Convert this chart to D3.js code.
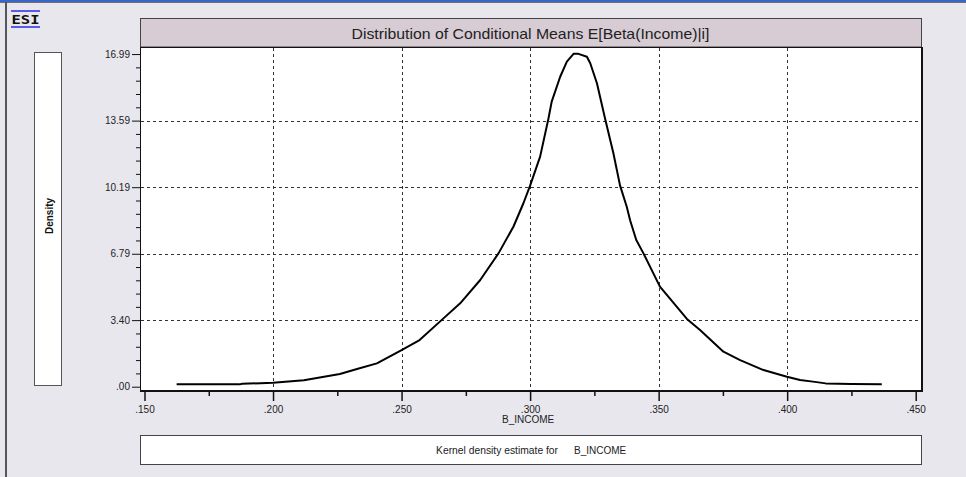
<!DOCTYPE html>
<html><head><meta charset="utf-8">
<script src="https://cdn.jsdelivr.net/npm/d3@7/dist/d3.min.js"></script>
<style>body{margin:0;background:#e9e7ee;}svg{display:block;font-family:"Liberation Sans",Arial,sans-serif;}</style>
</head><body><svg id="c" width="966" height="477"></svg>
<script>
const title = "Distribution of Conditional Means E[Beta(Income)|i]";
const xLabel = "B_INCOME";
const yLabel = "Density";
const legendLead = "Kernel density estimate for";
const legendVar = "B_INCOME";
const xTickValues = [0.15, 0.20, 0.25, 0.30, 0.35, 0.40, 0.45];
const xTickLabels = [".150", ".200", ".250", ".300", ".350", ".400", ".450"];
const yTickValues = [0, 3.40, 6.79, 10.19, 13.59, 16.99];
const yTickLabels = [".00", "3.40", "6.79", "10.19", "13.59", "16.99"];
const xs = [0.1625,0.175,0.187,0.188,0.200,0.212,0.226,0.233,0.2404,0.25,0.257,0.2663,0.2728,0.2806,0.2877,0.2935,0.2974,0.300,0.3039,0.3071,0.3084,0.3117,0.3143,0.3169,0.3188,0.3221,0.3234,0.326,0.3292,0.3324,0.335,0.3376,0.3389,0.3413,0.3441,0.3505,0.361,0.3661,0.3752,0.3817,0.3908,0.3999,0.405,0.41,0.415,0.425,0.4368];
const ys = [0.12,0.12,0.12,0.15,0.20,0.33,0.65,0.92,1.19,1.87,2.38,3.49,4.26,5.45,6.81,8.17,9.37,10.27,11.75,13.67,14.56,15.83,16.6,17.0,17.0,16.85,16.52,15.5,13.67,11.92,10.27,9.19,8.5,7.49,6.81,5.11,3.46,2.9,1.79,1.36,0.85,0.51,0.34,0.26,0.17,0.14,0.12];

const svg = d3.select("#c");
const L = 140, R = 921, T = 47, B = 390;
const x = d3.scaleLinear().domain([0.14825, 0.45206]).range([L, R]);
const y = d3.scaleLinear().domain([-0.168, 17.35]).range([B, T]);

// window chrome
svg.append("rect").attr("x",0).attr("y",0).attr("width",966).attr("height",2).attr("fill","#3a66c8");
svg.append("rect").attr("x",0).attr("y",2).attr("width",966).attr("height",1).attr("fill","#6d6d78");
svg.append("rect").attr("x",5).attr("y",2).attr("width",2).attr("height",475).attr("fill","#55555c");
// ESI logo
const lg = svg.append("g");
lg.append("rect").attr("x",11).attr("y",10).attr("width",29).attr("height",2).attr("fill","#5a5ae6");
lg.append("rect").attr("x",11).attr("y",26).attr("width",29).attr("height",2).attr("fill","#5a5ae6");
lg.append("text").attr("x",25.5).attr("y",24).attr("text-anchor","middle").attr("font-family","DejaVu Sans Mono").attr("font-weight","bold").attr("font-size",13).attr("fill","#111").attr("textLength",28).attr("lengthAdjust","spacingAndGlyphs").text("ESI");

// title box
svg.append("rect").attr("x",L+0.5).attr("y",18.5).attr("width",R-L).attr("height",T-18.5).attr("fill","#d7ccd3").attr("stroke","#444").attr("stroke-width",1);
svg.append("text").attr("x",(L+R)/2).attr("y",38.5).attr("text-anchor","middle").attr("font-size",14.5).attr("fill","#222")
  .attr("textLength",358).attr("lengthAdjust","spacingAndGlyphs").text(title);

// plot area
svg.append("rect").attr("x",L+0.5).attr("y",T+0.5).attr("width",R-L).attr("height",B-T).attr("fill","#fff").attr("stroke","#111").attr("stroke-width",1);
svg.append("line").attr("x1",R+1).attr("x2",R+1).attr("y1",T).attr("y2",B+1.5).attr("stroke","#111").attr("stroke-width",2);
svg.append("line").attr("x1",L).attr("x2",R+2).attr("y1",B+1).attr("y2",B+1).attr("stroke","#111").attr("stroke-width",2);

// gridlines
const grid = svg.append("g").attr("stroke","#333").attr("stroke-width",1).attr("stroke-dasharray","3,3");
[0.20,0.25,0.30,0.35,0.40].forEach(v=>{
  grid.append("line").attr("x1",Math.round(x(v))+0.5).attr("x2",Math.round(x(v))+0.5).attr("y1",T+1).attr("y2",B);
});
[3.40,6.79,10.19,13.59].forEach(v=>{
  grid.append("line").attr("x1",L+1).attr("x2",R).attr("y1",Math.round(y(v))+0.5).attr("y2",Math.round(y(v))+0.5);
});

// x axis
const xAxis = d3.axisBottom(x).tickValues(xTickValues).tickFormat((d,i)=>xTickLabels[i]).tickSize(10).tickPadding(5);
const gx = svg.append("g").attr("transform",`translate(0,${B+1})`).call(xAxis);
gx.select(".domain").remove();
gx.selectAll("line").attr("stroke","#111").attr("stroke-width",1.5);
gx.selectAll("text").attr("font-size",10).attr("fill","#222").attr("font-family","Liberation Sans, Arial");
const xMinor = d3.axisBottom(x).tickValues([0.175,0.225,0.275,0.325,0.375,0.425]).tickSize(5).tickFormat("");
const gxm = svg.append("g").attr("transform",`translate(0,${B+1})`).call(xMinor);
gxm.select(".domain").remove();
gxm.selectAll("line").attr("stroke","#111").attr("stroke-width",1.5);
svg.append("text").attr("x",x(0.30)-2).attr("y",423).attr("text-anchor","middle").attr("font-size",10).attr("fill","#222").text(xLabel);

// y axis
const yAxis = d3.axisLeft(y).tickValues(yTickValues).tickFormat((d,i)=>yTickLabels[i]).tickSize(8).tickPadding(2);
const gy = svg.append("g").attr("transform",`translate(${L},0)`).call(yAxis);
gy.select(".domain").remove();
gy.selectAll("line").attr("stroke","#111");
gy.selectAll("text").attr("font-size",10).attr("fill","#222").attr("font-family","Liberation Sans, Arial");
const minorY = [];
for (let i=0;i<5;i++){ for(let k=1;k<5;k++){ minorY.push(yTickValues[i]+(yTickValues[i+1]-yTickValues[i])*k/5); } }
const gym = svg.append("g").attr("transform",`translate(${L},0)`).call(d3.axisLeft(y).tickValues(minorY).tickSize(4).tickFormat(""));
gym.select(".domain").remove();
gym.selectAll("line").attr("stroke","#111");

// y label box
svg.append("rect").attr("x",34.5).attr("y",52.5).attr("width",27).attr("height",333).attr("fill","#fff").attr("stroke","#555");
svg.append("text").attr("transform",`translate(52.5,216) rotate(-90)`).attr("text-anchor","middle").attr("font-size",10).attr("font-weight","bold").attr("fill","#111").text(yLabel);

// legend box
svg.append("rect").attr("x",L+0.5).attr("y",435.5).attr("width",R-L).attr("height",29).attr("fill","#fff").attr("stroke","#444");
svg.append("text").attr("x",558).attr("y",454).attr("text-anchor","end").attr("font-size",10.3).attr("fill","#222").text(legendLead);
svg.append("text").attr("x",574).attr("y",454).attr("text-anchor","start").attr("font-size",10).attr("fill","#222").text(legendVar);

// curve
const pts = xs.map((v,i)=>[v,ys[i]]);
svg.append("path").datum(pts).attr("fill","none").attr("stroke","#000").attr("stroke-width",2)
  .attr("stroke-linejoin","round")
  .attr("d", d3.line().x(d=>x(d[0])).y(d=>y(d[1])));
</script></body></html>
